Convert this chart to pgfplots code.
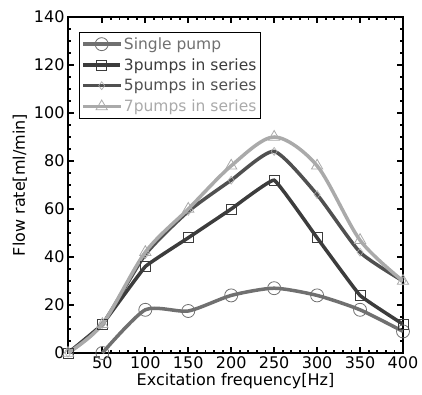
\documentclass[border=0pt]{standalone}
\usepackage{pgfplots}
\pgfplotsset{compat=1.18}
\usepackage{fontspec}
\setmainfont{DejaVu Sans}
\definecolor{cS}{HTML}{707070}
\definecolor{cT}{HTML}{3C3C3C}
\definecolor{cF}{HTML}{505050}
\definecolor{cV}{HTML}{AAAAAA}
\begin{document}
\begin{tikzpicture}
\begin{axis}[
  scale only axis,
  width=335pt, height=336pt,
  xmin=10, xmax=400, ymin=0, ymax=140,
  xtick={50,100,...,400}, ytick={0,20,...,140},
  minor x tick num=4, minor y tick num=3,
  tick align=inside,
  major tick length=6pt, minor tick length=3.5pt,
  every tick/.style={line width=1.8pt,black},
  axis line style={line width=2.8pt},
  /pgf/number format/assume math mode=true,
  ticklabel style={font=\fontsize{16}{18}\selectfont},
  xlabel={Excitation frequency[Hz]},
  ylabel={Flow rate[ml/min]},
  label style={font=\fontsize{16}{18}\selectfont},
  xlabel style={yshift=2pt},
  ylabel style={yshift=0pt},
  legend style={at={(0.033,0.955)}, anchor=north west, draw=black, line width=0.8pt,
    font=\fontsize{15.5}{18}\selectfont, row sep=3.5pt, inner sep=1pt, inner xsep=2pt, inner ysep=3pt},
  legend cell align=left,
  legend image code/.code={\draw[mark repeat=2,mark phase=2,#1] plot coordinates {(0cm,0cm) (0.65cm,0cm) (1.3cm,0cm)};},
]
\addplot[cS, line width=3.5pt, smooth, tension=0.4, mark=o, mark size=6.5pt,
  mark options={fill=white, draw=cS, line width=0.8pt, solid}]
  coordinates {(50,0) (100,18) (150,17.5) (200,24) (250,27) (300,24) (350,18) (400,9)};
\addlegendentry{\textcolor{cS}{Single pump}}
\addplot[cT, line width=3.5pt, smooth, tension=0.15, mark=square, mark size=5pt,
  mark options={fill=none, draw=cT, line width=0.8pt, solid}]
  coordinates {(10,0) (50,12) (100,36) (150,48) (200,60) (250,72) (300,48) (350,24) (400,12)};
\addlegendentry{\textcolor{cT}{3pumps in series}}
\addplot[cF, line width=3.5pt, smooth, tension=0.35, mark=diamond, mark size=4pt,
  mark options={fill=white, draw=cV, line width=0.6pt, solid}]
  coordinates {(10,0) (50,12) (100,41) (150,59) (200,72) (250,84) (300,66) (350,42) (400,30)};
\addlegendentry{\textcolor{cF}{5pumps in series}}
\addplot[cV, line width=3.5pt, smooth, tension=0.5, mark=triangle, mark size=6.5pt,
  mark options={fill=white, draw=cV, line width=0.8pt, solid}]
  coordinates {(10,0) (50,12) (100,42) (150,60) (200,78) (250,90) (300,78) (350,47) (400,30)};
\addlegendentry{\textcolor{cV}{7pumps in series}}
\end{axis}
\path (current axis.south west) ++(-68pt,-41pt);
\path (current axis.north east) ++(19pt,17pt);
\end{tikzpicture}
\end{document}
